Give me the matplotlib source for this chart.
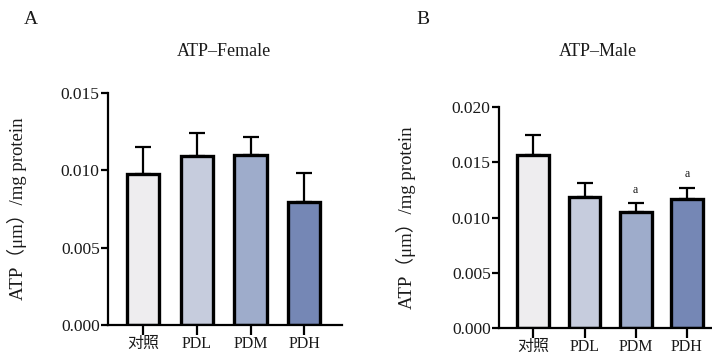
import numpy as np
import matplotlib
matplotlib.use('Agg')
import matplotlib.pyplot as plt

plt.rcParams['font.family'] = ['Liberation Serif', 'Noto Sans CJK SC', 'DejaVu Sans']

groups = ['对照', 'PDL', 'PDM', 'PDH']
colors = ['#EEEDEF', '#C6CCDD', '#9EACCB', '#7587B5']

female_mean = [0.00976, 0.01095, 0.01099, 0.00797]
female_err = [0.00175, 0.00145, 0.00117, 0.00188]

male_mean = [0.01568, 0.01186, 0.01046, 0.01170]
male_err = [0.00175, 0.00126, 0.00082, 0.00097]
male_sig = ['', '', 'a', 'a']

W, H = 712, 356
fig = plt.figure(figsize=(W / 100, H / 100), dpi=100)

axA = fig.add_axes([108 / W, 1 - 325 / H, (342 - 108) / W, (325 - 93) / H])
axB = fig.add_axes([499 / W, 1 - 328 / H, (712 - 499) / W, (328 - 107) / H])

txt = '#1a1a1a'


def draw(ax, mean, err, ylim, yticks, xlim, width, lab_x):
    x = np.arange(len(groups))
    ax.bar(x, mean, width=width, color=colors, edgecolor='black', linewidth=2.4, zorder=2)
    ax.errorbar(x, mean, yerr=[np.zeros(len(mean)), err], fmt='none', ecolor='black',
                elinewidth=1.6, capsize=6, capthick=1.6, zorder=1)
    ax.set_xlim(*xlim)
    ax.set_ylim(*ylim)
    ax.set_yticks(yticks)
    ax.set_yticklabels(['%.3f' % v for v in yticks])
    ax.set_xticks(x)
    ax.set_xticklabels(groups)
    for s in ['top', 'right']:
        ax.spines[s].set_visible(False)
    for s in ['left', 'bottom']:
        ax.spines[s].set_linewidth(1.6)
    ax.tick_params(axis='y', length=5, width=1.6, pad=1, labelsize=12.5, colors=txt)
    ax.tick_params(axis='x', length=7, width=1.6, pad=1, labelsize=11.5, colors=txt)
    ax.tick_params(axis='both', color='black')
    ax.set_ylabel('ATP（μm）/mg protein', fontsize=13.5, color=txt)
    ax.yaxis.set_label_coords(lab_x, 0.5)
    ax.patch.set_alpha(0)


draw(axA, female_mean, female_err, (0, 0.015), [0, 0.005, 0.010, 0.015], (-0.65, 3.7), 0.6, -0.345)
draw(axB, male_mean, male_err, (0, 0.020), [0, 0.005, 0.010, 0.015, 0.020], (-0.67, 3.49), 0.62, -0.39)

for i, s in enumerate(male_sig):
    if s:
        axB.text(i, male_mean[i] + male_err[i] + 0.0007, s, ha='center', va='bottom',
                 fontsize=8.5, color=txt)

fig.text(224 / W, 1 - 52 / H, 'ATP–Female', ha='center', va='center', fontsize=13, color=txt)
fig.text(598 / W, 1 - 52 / H, 'ATP–Male', ha='center', va='center', fontsize=13, color=txt)
fig.text(31 / W, 1 - 20 / H, 'A', ha='center', va='center', fontsize=14, color=txt)
fig.text(423 / W, 1 - 20 / H, 'B', ha='center', va='center', fontsize=14, color=txt)

fig.savefig('out.png', dpi=100)
